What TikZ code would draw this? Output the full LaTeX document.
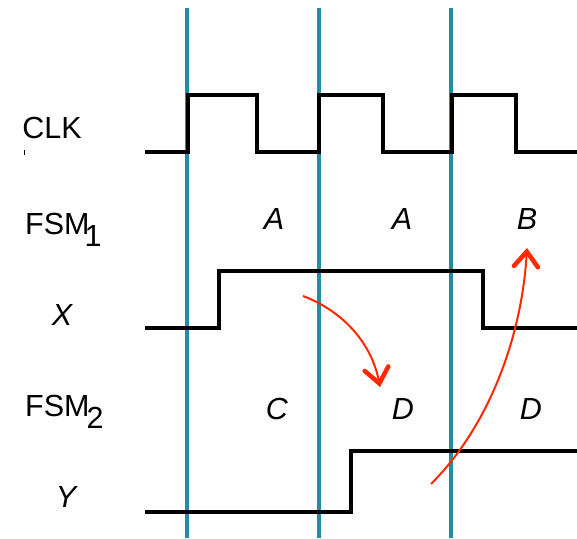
\documentclass[tikz,border=0pt]{standalone}
\usepackage{fontspec}
\setmainfont{Liberation Sans}
\usetikzlibrary{arrows.meta}
\definecolor{tealline}{RGB}{32,142,164}
\definecolor{redarrow}{RGB}{255,40,0}
\begin{document}
\begin{tikzpicture}[x=1pt,y=-1pt,
  grid/.style={draw=tealline,line width=4pt},
  wave/.style={draw=black,line width=4.5pt,line join=miter},
  lbl/.style={inner sep=0pt,font=\fontsize{30.5}{36}\selectfont},
  st/.style={inner sep=0pt,font=\fontsize{30.5}{36}\selectfont\itshape},
  redar/.style={draw=redarrow,line width=2pt,-{Straight Barb[length=15pt,width=24pt,line width=4.5pt,line cap=round]}}]
\useasboundingbox (0,0) rectangle (577,538);
% teal vertical lines
\coordinate (t1a) at (187,8); \coordinate (t1b) at (187,538);
\coordinate (t2a) at (319,8); \coordinate (t2b) at (319,538);
\coordinate (t3a) at (451,8); \coordinate (t3b) at (451,538);
\draw[grid] (t1a) -- (t1b);
\draw[grid] (t2a) -- (t2b);
\draw[grid] (t3a) -- (t3b);
% CLK waveform
\draw[wave] (145,152) -- (188,152) -- (188,95) -- (257,95) -- (257,152) -- (319,152) -- (319,95) -- (383,95) -- (383,152) -- (452,152) -- (452,95) -- (516,95) -- (516,152) -- (577,152);
% X waveform
\draw[wave] (145,328) -- (219,328) -- (219,271) -- (483,271) -- (483,328) -- (577,328);
% Y waveform
\draw[wave] (145,512) -- (351,512) -- (351,451) -- (577,451);
% labels
\node[lbl] (clk) at (52,128) {CLK};
\draw[line width=0.8pt] (24,150) -- (24,155);
\node[lbl,anchor=base west] (fsm1) at (25,234) {FSM\kern-5pt\raisebox{-12pt}{1}};
\node[st] (x) at (62,315) {X};
\node[lbl,anchor=base west] (fsm2) at (25,416) {FSM\kern-3pt\raisebox{-12pt}{2}};
\node[st] (y) at (66,497) {Y};
% state labels
\node[st] (a1) at (274,219) {A};
\node[st] (a2) at (402,219) {A};
\node[st] (b) at (527,219) {B};
\node[st] (c) at (277,409) {C};
\node[st] (d1) at (403,409) {D};
\node[st] (d2) at (531,409) {D};
% red arrows
\coordinate (r1s) at (303,296);
\coordinate (r1e) at (380,387);
\draw[redar] (r1s) .. controls (345,312) and (372,345) .. (r1e);
\coordinate (r2s) at (431,484);
\coordinate (r2e) at (527,248);
\draw[redar] (r2s) .. controls (490,425) and (522,335) .. (r2e);
\end{tikzpicture}
\end{document}
